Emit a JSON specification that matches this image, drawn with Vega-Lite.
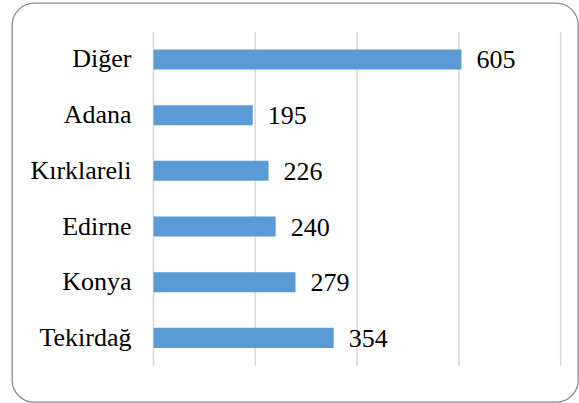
{
  "$schema": "https://vega.github.io/schema/vega-lite/v6.json",
  "width": 566,
  "height": 399,
  "padding": {"left": 12, "top": 3, "right": 1, "bottom": 1},
  "autosize": {"type": "none"},
  "background": "#ffffff",
  "config": {
    "view": {"stroke": "#8c8c8c", "strokeWidth": 1.3, "cornerRadius": 22},
    "font": "Liberation Serif"
  },
  "datasets": {
    "cities": [
      {"il": "Diğer", "n": 605},
      {"il": "Adana", "n": 195},
      {"il": "Kırklareli", "n": 226},
      {"il": "Edirne", "n": 240},
      {"il": "Konya", "n": 279},
      {"il": "Tekirdağ", "n": 354}
    ],
    "grid": [{"v": 0}, {"v": 200}, {"v": 400}, {"v": 600}, {"v": 800}]
  },
  "layer": [
    {
      "data": {"name": "grid"},
      "mark": {"type": "rule", "color": "#d9d9d9", "strokeWidth": 1.6},
      "encoding": {
        "x": {"field": "v", "type": "quantitative", "scale": {"domain": [-278, 834], "nice": false, "zero": false}, "axis": null},
        "y": {"datum": 0, "type": "quantitative", "scale": {"domain": [-0.652, 6.516], "nice": false, "zero": false}, "axis": null},
        "y2": {"datum": 6}
      }
    },
    {
      "data": {"name": "cities"},
      "encoding": {
        "y": {
          "field": "il",
          "type": "nominal",
          "sort": null,
          "scale": {"paddingInner": 0.64, "paddingOuter": 0.9035, "align": 0.462},
          "axis": {
            "title": null,
            "domain": false,
            "ticks": false,
            "labelPadding": -119,
            "labelFontSize": 26,
            "labelColor": "#000000",
            "labelFont": "Liberation Serif"
          }
        },
        "x": {"field": "n", "type": "quantitative", "scale": {"domain": [-278, 834], "nice": false, "zero": false}, "axis": null}
      },
      "layer": [
        {"mark": {"type": "bar", "color": "#5b9bd5"}},
        {
          "mark": {"type": "text", "align": "left", "dx": 15, "dy": 1, "fontSize": 26, "color": "#000000", "font": "Liberation Serif"},
          "encoding": {"text": {"field": "n", "type": "quantitative"}}
        }
      ]
    }
  ],
  "resolve": {"scale": {"y": "independent"}}
}
